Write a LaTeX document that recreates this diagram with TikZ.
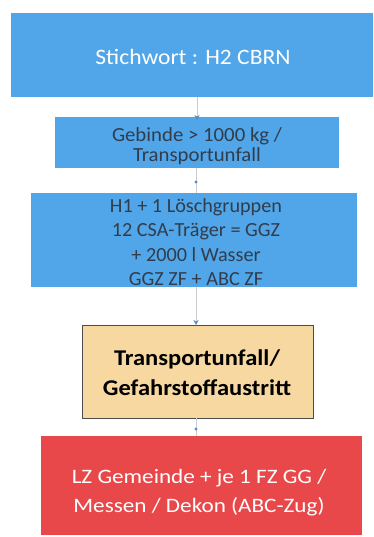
\documentclass[tikz,border=0pt]{standalone}
\usepackage{fontspec}
\setmainfont{Carlito}
\usetikzlibrary{arrows.meta}
\definecolor{boxblue}{RGB}{80,166,232}
\definecolor{boxbeige}{RGB}{247,216,160}
\definecolor{boxred}{RGB}{232,72,74}
\definecolor{txtdark}{RGB}{50,60,75}
\definecolor{lineg}{RGB}{200,205,210}
\definecolor{tipblue}{RGB}{90,140,190}
\begin{document}
\begin{tikzpicture}[x=1pt,y=-1pt,
  lbl/.style={align=center,inner sep=0pt,transform shape},
  conn/.style={draw=lineg,line width=0.6pt,-{Stealth[length=5pt,width=5pt,color=tipblue]}},
  plain/.style={draw=lineg,line width=0.6pt}]
\useasboundingbox (0,0) rectangle (373,537);
\fill[white] (0,0) rectangle (373,537);
% boxes
\fill[boxblue] (11,13) rectangle (373,97);
\node[lbl,xscale=1.07,text=white,font=\fontsize{22}{25}\selectfont] (b1) at (193,57) {Stichwort : H2 CBRN};
\coordinate (b1s) at (197,97);
\fill[boxblue] (55,117) rectangle (339,168);
\node[lbl,xscale=1.04,text=txtdark,font=\fontsize{20}{20}\selectfont] (b2) at (197,146) {Gebinde > 1000 kg /\\Transportunfall};
\coordinate (b2n) at (197,117);
\coordinate (b2s) at (196,168);
\fill[boxblue] (31,193) rectangle (357,287);
\node[lbl,xscale=1.01,text=txtdark,font=\fontsize{20}{24.5}\selectfont] (b3) at (196,242) {H1 + 1 Löschgruppen\\12 CSA-Träger = GGZ\\+ 2000 l Wasser\\GGZ ZF + ABC ZF};
\coordinate (b3n) at (196,193);
\coordinate (b3s) at (196,287);
\filldraw[fill=boxbeige,draw=black!70,line width=0.8pt] (82,325) rectangle (313,418);
\node[lbl,xscale=1.09,text=black,font=\bfseries\fontsize{22.5}{30}\selectfont] (b4) at (197,373) {Transportunfall/\\Gefahrstoffaustritt};
\coordinate (b4n) at (196,325);
\coordinate (b4s) at (196,418);
\fill[boxred] (41,436) rectangle (362,535);
\node[lbl,xscale=1.13,text=white,font=\fontsize{20.5}{29}\selectfont] (b5) at (199,493) {LZ Gemeinde + je 1 FZ GG /\\Messen / Dekon (ABC-Zug)};
\coordinate (b5n) at (196,436);
% connectors
\draw[conn] (b1s) -- ([yshift=-3pt]b2n);
\draw[plain] (b2s) -- (b3n);
\fill[tipblue] (196,182) circle (1.6pt);
\draw[conn] (b3s) -- (b4n);
\draw[plain] (b4s) -- (b5n);
\fill[tipblue] (196,429) circle (1.6pt);
\end{tikzpicture}
\end{document}
